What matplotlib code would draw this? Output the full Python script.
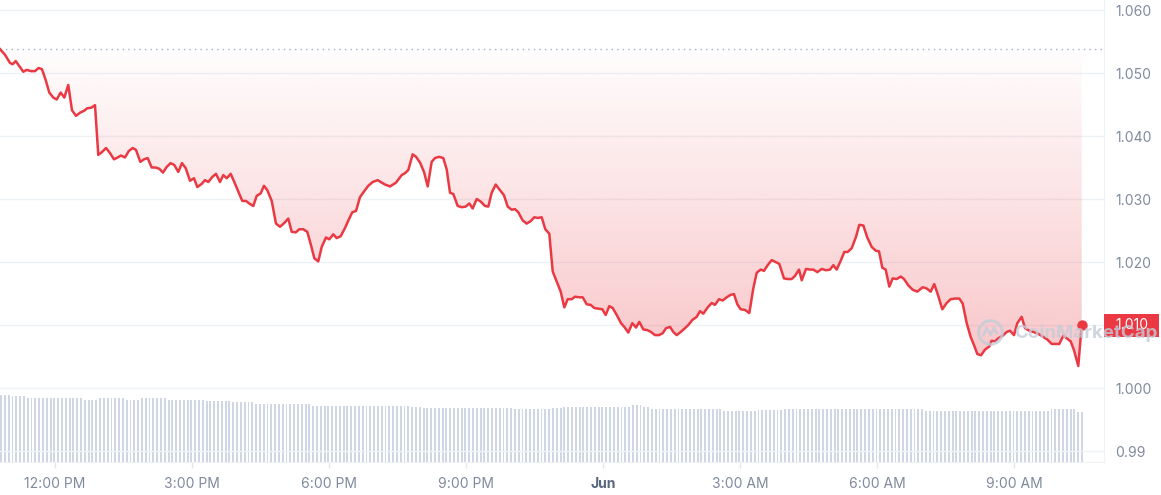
import numpy as np
import matplotlib
matplotlib.use('Agg')
import matplotlib.pyplot as plt
import matplotlib.transforms as mtransforms
from matplotlib.colors import ListedColormap
from matplotlib.patches import PathPatch, Rectangle
from matplotlib.path import Path

plt.rcParams['font.family'] = ['Inter', 'DejaVu Sans']

# price samples, hours after 12:00 PM on 31 May
hours = [
    -1.204, -1.095, -0.985, -0.926, -0.861, -0.782, -0.694, -0.620, -0.526, -0.438,
    -0.357, -0.285, -0.204, -0.125, -0.037, 0.037, 0.125, 0.204, 0.291, 0.372,
    0.460, 0.547, 0.635, 0.707, 0.795, 0.876, 0.948, 1.036, 1.117, 1.204,
    1.292, 1.373, 1.445, 1.533, 1.614, 1.701, 1.774, 1.868, 1.949, 2.030,
    2.117, 2.205, 2.284, 2.365, 2.446, 2.533, 2.612, 2.700, 2.781, 2.862,
    2.956, 3.044, 3.116, 3.212, 3.284, 3.357, 3.444, 3.525, 3.613, 3.685,
    3.760, 3.847, 3.926, 4.014, 4.101, 4.182, 4.270, 4.342, 4.417, 4.504,
    4.576, 4.649, 4.745, 4.839, 4.927, 5.021, 5.108, 5.183, 5.270, 5.349,
    5.437, 5.524, 5.605, 5.678, 5.765, 5.840, 5.934, 6.006, 6.094, 6.168,
    6.256, 6.350, 6.437, 6.510, 6.591, 6.678, 6.766, 6.860, 6.956, 7.066,
    7.132, 7.226, 7.335, 7.467, 7.591, 7.664, 7.736, 7.832, 7.905, 7.992,
    8.080, 8.161, 8.248, 8.320, 8.408, 8.502, 8.577, 8.649, 8.721, 8.818,
    8.905, 8.993, 9.072, 9.146, 9.234, 9.321, 9.415, 9.488, 9.562, 9.650,
    9.744, 9.831, 9.912, 10.000, 10.072, 10.144, 10.241, 10.328, 10.416, 10.495,
    10.569, 10.657, 10.736, 10.823, 10.898, 10.985, 11.073, 11.152, 11.226, 11.314,
    11.386, 11.480, 11.555, 11.642, 11.730, 11.809, 11.896, 11.984, 12.058, 12.137,
    12.211, 12.299, 12.393, 12.466, 12.553, 12.641, 12.722, 12.794, 12.882, 12.969,
    13.050, 13.138, 13.225, 13.306, 13.379, 13.466, 13.539, 13.613, 13.701, 13.779,
    13.867, 13.955, 14.051, 14.123, 14.195, 14.292, 14.379, 14.451, 14.539, 14.620,
    14.708, 14.795, 14.868, 14.940, 15.014, 15.108, 15.203, 15.290, 15.365, 15.452,
    15.524, 15.605, 15.693, 15.780, 15.859, 15.962, 16.043, 16.131, 16.203, 16.291,
    16.350, 16.444, 16.532, 16.604, 16.692, 16.788, 16.882, 16.970, 17.042, 17.116,
    17.204, 17.283, 17.357, 17.445, 17.539, 17.611, 17.699, 17.786, 17.882, 17.970,
    18.042, 18.115, 18.189, 18.268, 18.342, 18.430, 18.518, 18.590, 18.684, 18.780,
    18.881, 18.999, 19.087, 19.174, 19.253, 19.341, 19.428, 19.525, 19.612, 19.706,
    19.801, 19.875, 19.963, 20.050, 20.123, 20.195, 20.276, 20.364, 20.458, 20.510,
    20.583, 20.655, 20.751, 20.839, 20.911, 20.999, 21.071, 21.167, 21.239, 21.334,
    21.421, 21.531, 21.640, 21.728, 21.824, 21.918, 21.990, 22.078, 22.152, 22.240,
    22.312, 22.406, 22.481,
]

price = [
    1.0538, 1.0529, 1.0516, 1.0514, 1.0519, 1.0511, 1.0502, 1.0505, 1.0503, 1.0503,
    1.0508, 1.0506, 1.0489, 1.0469, 1.0461, 1.0458, 1.0469, 1.0461, 1.0481, 1.0441,
    1.0432, 1.0437, 1.0440, 1.0444, 1.0445, 1.0449, 1.0370, 1.0375, 1.0381, 1.0373,
    1.0363, 1.0366, 1.0369, 1.0366, 1.0376, 1.0381, 1.0378, 1.0359, 1.0363, 1.0365,
    1.0350, 1.0350, 1.0348, 1.0342, 1.0351, 1.0357, 1.0354, 1.0343, 1.0357, 1.0349,
    1.0329, 1.0333, 1.0319, 1.0324, 1.0330, 1.0327, 1.0335, 1.0340, 1.0327, 1.0338,
    1.0333, 1.0340, 1.0327, 1.0312, 1.0297, 1.0297, 1.0292, 1.0289, 1.0305, 1.0309,
    1.0321, 1.0314, 1.0297, 1.0261, 1.0256, 1.0262, 1.0269, 1.0248, 1.0247, 1.0252,
    1.0252, 1.0248, 1.0227, 1.0206, 1.0201, 1.0224, 1.0239, 1.0236, 1.0244, 1.0238,
    1.0241, 1.0254, 1.0268, 1.0279, 1.0281, 1.0303, 1.0312, 1.0321, 1.0327, 1.0330,
    1.0327, 1.0323, 1.0320, 1.0326, 1.0338, 1.0341, 1.0346, 1.0371, 1.0367, 1.0358,
    1.0343, 1.0320, 1.0359, 1.0365, 1.0367, 1.0365, 1.0347, 1.0310, 1.0308, 1.0289,
    1.0287, 1.0288, 1.0293, 1.0285, 1.0300, 1.0296, 1.0289, 1.0288, 1.0310, 1.0323,
    1.0314, 1.0306, 1.0288, 1.0283, 1.0284, 1.0279, 1.0266, 1.0261, 1.0265, 1.0271,
    1.0270, 1.0271, 1.0252, 1.0245, 1.0185, 1.0169, 1.0153, 1.0128, 1.0141, 1.0141,
    1.0145, 1.0144, 1.0144, 1.0133, 1.0132, 1.0127, 1.0126, 1.0125, 1.0116, 1.0130,
    1.0127, 1.0116, 1.0103, 1.0097, 1.0088, 1.0103, 1.0096, 1.0105, 1.0093, 1.0092,
    1.0089, 1.0084, 1.0084, 1.0087, 1.0095, 1.0097, 1.0089, 1.0084, 1.0089, 1.0094,
    1.0100, 1.0108, 1.0113, 1.0122, 1.0118, 1.0128, 1.0135, 1.0132, 1.0141, 1.0139,
    1.0144, 1.0148, 1.0149, 1.0133, 1.0125, 1.0124, 1.0119, 1.0158, 1.0183, 1.0188,
    1.0186, 1.0195, 1.0203, 1.0200, 1.0197, 1.0174, 1.0173, 1.0173, 1.0178, 1.0188,
    1.0171, 1.0189, 1.0188, 1.0188, 1.0184, 1.0189, 1.0187, 1.0188, 1.0195, 1.0188,
    1.0202, 1.0216, 1.0216, 1.0222, 1.0240, 1.0259, 1.0258, 1.0239, 1.0224, 1.0218,
    1.0217, 1.0191, 1.0188, 1.0161, 1.0174, 1.0173, 1.0177, 1.0173, 1.0163, 1.0156,
    1.0153, 1.0160, 1.0158, 1.0153, 1.0165, 1.0146, 1.0125, 1.0135, 1.0141, 1.0142,
    1.0142, 1.0134, 1.0103, 1.0081, 1.0068, 1.0054, 1.0052, 1.0061, 1.0066, 1.0075,
    1.0074, 1.0079, 1.0083, 1.0089, 1.0091, 1.0084, 1.0103, 1.0113, 1.0095, 1.0091,
    1.0089, 1.0086, 1.0081, 1.0077, 1.0070, 1.0070, 1.0070, 1.0083, 1.0079, 1.0074,
    1.0060, 1.0035, 1.0100,
]

open_price = 1.0538

# 5 minute volume bars (relative units), first bar at vol_start hours
vol_start = -1.18
vol_step = 5 / 60
volume = [
    66.7, 66.7, 66.7, 66.0, 66.0, 66.0, 66.0, 63.6, 63.6, 63.6, 63.6, 63.6,
    63.6, 63.6, 63.6, 63.6, 63.6, 63.6, 63.6, 63.6, 63.6, 63.6, 62.0, 62.0,
    62.0, 62.0, 63.6, 63.6, 63.6, 63.6, 63.6, 63.6, 63.6, 62.0, 62.0, 62.0,
    62.0, 63.6, 63.6, 63.6, 63.6, 63.6, 63.6, 63.6, 62.0, 62.0, 62.0, 62.0,
    62.0, 62.0, 62.0, 62.0, 62.0, 62.0, 61.0, 61.0, 61.0, 61.0, 61.0, 61.0,
    61.0, 60.0, 60.0, 60.0, 60.0, 60.0, 60.0, 58.3, 58.3, 58.3, 58.3, 58.3,
    58.3, 58.3, 58.3, 58.3, 58.3, 58.3, 58.3, 58.3, 58.3, 58.3, 56.4, 56.4,
    56.4, 56.4, 56.4, 56.4, 56.4, 56.4, 56.4, 56.4, 56.4, 56.4, 56.4, 56.4,
    56.4, 56.4, 56.4, 56.4, 56.4, 56.4, 56.4, 56.4, 56.4, 56.4, 56.4, 56.4,
    55.2, 55.2, 55.2, 54.0, 54.0, 54.0, 54.0, 54.0, 54.0, 54.0, 54.0, 54.0,
    54.0, 54.0, 54.0, 54.0, 54.0, 54.0, 54.0, 54.0, 54.0, 54.0, 54.0, 54.0,
    54.0, 54.0, 54.0, 53.0, 53.0, 53.0, 53.0, 53.0, 53.0, 53.0, 53.0, 53.0,
    53.0, 54.0, 54.0, 54.0, 55.5, 55.5, 55.5, 55.5, 55.5, 55.5, 55.5, 55.5,
    55.5, 55.5, 55.5, 55.5, 55.5, 55.5, 55.5, 55.5, 55.5, 55.5, 57.0, 57.0,
    57.0, 54.6, 54.6, 52.8, 52.8, 52.8, 52.8, 52.8, 52.8, 52.8, 52.8, 52.8,
    52.8, 52.8, 52.8, 52.8, 52.8, 52.8, 52.8, 52.8, 52.8, 52.8, 51.3, 51.3,
    51.3, 51.3, 51.3, 51.3, 51.3, 51.3, 51.3, 52.0, 52.0, 52.0, 52.0, 52.0,
    52.0, 52.0, 53.5, 53.5, 53.5, 53.5, 53.5, 53.5, 53.5, 53.5, 53.5, 53.5,
    53.5, 53.5, 53.5, 53.5, 53.5, 53.5, 53.5, 53.5, 53.5, 53.5, 53.5, 53.5,
    53.5, 53.5, 52.8, 52.8, 52.8, 52.8, 52.8, 52.8, 52.8, 52.8, 52.8, 52.8,
    52.8, 52.8, 52.8, 51.3, 51.3, 51.3, 51.3, 51.3, 51.3, 51.3, 51.3, 51.3,
    51.3, 51.3, 51.3, 51.3, 51.3, 51.3, 51.3, 51.3, 51.3, 51.3, 51.3, 51.3,
    51.3, 51.3, 51.3, 51.3, 51.3, 51.3, 51.3, 51.3, 51.3, 51.3, 51.3, 51.3,
    52.8, 52.8, 52.8, 52.8, 52.8, 52.8, 52.8, 50.0, 50.0,
]

tick_hours = [0, 3, 6, 9, 12, 15, 18, 21]
tick_labels = ['12:00 PM', '3:00 PM', '6:00 PM', '9:00 PM', 'Jun', '3:00 AM', '6:00 AM', '9:00 AM']
price_ticks = [0.99, 1.000, 1.010, 1.020, 1.030, 1.040, 1.050, 1.060]
# 1.010 sits under the last-price tag, which shows the same number
price_labels = ['0.99', '1.000', '', '1.020', '1.030', '1.040', '1.050', '1.060']

RED = '#ea3943'
GRAY = '#808a9d'
GRID = '#eff2f5'

fig = plt.figure(figsize=(11.61, 4.95), dpi=100)
ax = fig.add_axes([0, 33 / 495, 1104 / 1161, 462 / 495])
axv = ax.twinx()
ax.set_zorder(axv.get_zorder() + 1)
ax.patch.set_visible(False)

# volume
vt = vol_start + vol_step * np.arange(len(volume))
axv.bar(vt, volume, width=vol_step * 0.5, color='#cfd6e4', linewidth=0)
axv.set_ylim(0, max(volume) * 6.93)
axv.set_yticks([])
for s in axv.spines.values():
    s.set_visible(False)

# gradient area between the line and the open price
poly = ax.fill_between(hours, price, open_price, facecolor='none', edgecolor='none')
clip = PathPatch(poly.get_paths()[0], transform=ax.transData, facecolor='none', edgecolor='none')
ax.add_patch(clip)
rgba = np.zeros((256, 4))
rgba[:, :3] = matplotlib.colors.to_rgb(RED)
rgba[:, 3] = np.linspace(0.01, 0.29, 256)
grad = np.linspace(0, 1, 256).reshape(-1, 1)
img = ax.imshow(grad, cmap=ListedColormap(rgba), extent=[hours[0], hours[-1], min(price), open_price],
                origin='upper', aspect='auto', zorder=1, interpolation='bilinear')
img.set_clip_path(clip)

ax.axhline(open_price, color='#a6b0c3', lw=1, ls=(0, (1, 3)), zorder=2)
ax.plot(hours, price, color=RED, lw=1.8, zorder=3, solid_joinstyle='round')
ax.plot(hours[-1], price[-1], 'o', color=RED, ms=6.5, zorder=4)

ax.set_xlim(-1.204, 22.969)
ax.set_ylim(0.98826, 1.06159)

# axes styling
ax.yaxis.tick_right()
ax.set_yticks(price_ticks, price_labels)
ax.set_xticks(tick_hours, tick_labels)
ax.grid(axis='y', color=GRID, lw=1)
ax.set_axisbelow(True)
ax.tick_params(axis='y', length=0, pad=8, labelsize=10, labelcolor=GRAY)
ax.tick_params(axis='x', length=4, width=1, color='#e3e6eb', pad=7, labelsize=10, labelcolor=GRAY)
ax.get_xticklabels()[4].set_color('#58667e')
ax.get_xticklabels()[4].set_fontweight('bold')
for side in ['top', 'left']:
    ax.spines[side].set_visible(False)
ax.spines['right'].set_color(GRID)
ax.spines['bottom'].set_color(GRID)

# last price tag
trans = mtransforms.blended_transform_factory(ax.transAxes, ax.transData)
ax.add_patch(Rectangle((1.0, price[-1] - 0.00183), 0.0498, 0.00366, transform=trans,
                       facecolor=RED, edgecolor='none', clip_on=False, zorder=5))
ax.text(1.0249, price[-1], '{:.3f}'.format(price[-1]), transform=trans, color='white',
        ha='center', va='center', fontsize=10, zorder=6, clip_on=False)

# watermark
wm = '#c5ccd9'
ax.plot([0.8967], [0.2814], transform=ax.transAxes, marker='o', ms=17, mfc='none',
        mec=wm, mew=2.2, alpha=0.8, zorder=7, clip_on=False)
wave = Path([(-1.0, -0.5), (-0.5, 0.6), (0.0, -0.3), (0.45, 0.6), (0.8, -0.1), (1.0, 0.0)])
ax.plot([0.8967], [0.2814], transform=ax.transAxes, marker=wave, ms=11, mfc='none',
        mec=wm, mew=2, alpha=0.8, zorder=7, clip_on=False)
ax.text(0.919, 0.279, 'CoinMarketCap', transform=ax.transAxes, fontsize=13.5, fontweight='bold',
        color=wm, alpha=0.8, ha='left', va='center', zorder=7, clip_on=False)

fig.savefig('out.png', dpi=100)
